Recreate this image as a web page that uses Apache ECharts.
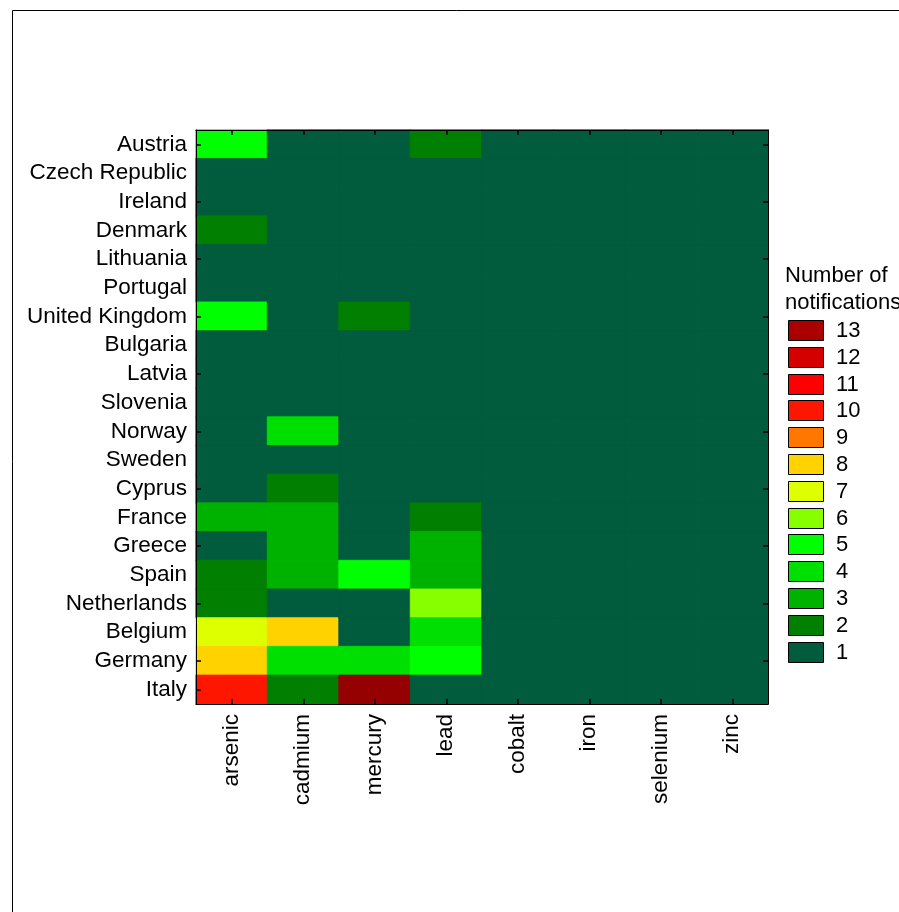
<!DOCTYPE html>
<html>
<head>
<meta charset="utf-8">
<script src="https://cdn.jsdelivr.net/npm/echarts@6/dist/echarts.min.js"></script>
<style>
html,body{margin:0;padding:0;background:#fff;}
#chart{width:899px;height:912px;}
</style>
</head>
<body>
<div id="chart"></div>
<script>
// ---- Data ----
var countries = ["Austria","Czech Republic","Ireland","Denmark","Lithuania","Portugal","United Kingdom","Bulgaria","Latvia","Slovenia","Norway","Sweden","Cyprus","France","Greece","Spain","Netherlands","Belgium","Germany","Italy"];
var metals = ["arsenic","cadmium","mercury","lead","cobalt","iron","selenium","zinc"];

var arsenic  = [5,1,1,2,1,1,5,1,1,1,1,1,1,3,1,2,2,7,8,10];
var cadmium  = [1,1,1,1,1,1,1,1,1,1,4,1,2,3,3,3,1,8,4,2];
var mercury  = [1,1,1,1,1,1,2,1,1,1,1,1,1,1,1,5,1,1,4,14];
var lead     = [2,1,1,1,1,1,1,1,1,1,1,1,1,2,3,3,6,4,5,1];
var cobalt   = [1,1,1,1,1,1,1,1,1,1,1,1,1,1,1,1,1,1,1,1];
var iron     = [1,1,1,1,1,1,1,1,1,1,1,1,1,1,1,1,1,1,1,1];
var selenium = [1,1,1,1,1,1,1,1,1,1,1,1,1,1,1,1,1,1,1,1];
var zinc     = [1,1,1,1,1,1,1,1,1,1,1,1,1,1,1,1,1,1,1,1];

var legendValues = [13,12,11,10,9,8,7,6,5,4,3,2,1];
var legendColors = ["#aa0000","#d40000","#ff0000","#ff1600","#ff7700","#ffd200","#ddff00","#88ff00","#00ff00","#00e000","#00b200","#007f00","#005c3c"];
var aboveColor = "#950000";

// ---- Build ----
function colorFor(v){
  var i = legendValues.indexOf(v);
  return i >= 0 ? legendColors[i] : aboveColor;
}
var columns = [arsenic, cadmium, mercury, lead, cobalt, iron, selenium, zinc];
var data = [];
columns.forEach(function(col, xi){
  col.forEach(function(v, yi){
    data.push({value:[xi, yi, v], itemStyle:{borderColor:colorFor(v), borderWidth:0.8}});
  });
});

var pieces = legendValues.map(function(v, i){ return {value: v, color: legendColors[i]}; });

var FONT = '"Liberation Sans", Arial, sans-serif';

// legend graphic
var legendEls = [];
legendEls.push({type:'text', left: 785, top: 265, style:{text:'Number of', font:'22px ' + FONT, fill:'#000'}});
legendEls.push({type:'text', left: 785, top: 292, style:{text:'notifications', font:'22px ' + FONT, fill:'#000'}});
legendValues.forEach(function(v, i){
  var cy = 330 + i * 26.8;
  legendEls.push({type:'rect', shape:{x:788.5, y:Math.round(cy-10)+0.5, width:35, height:20},
    style:{fill:legendColors[i], stroke:'#000', lineWidth:1}});
  legendEls.push({type:'text', x:836, y:cy + 1, style:{text:String(v), font:'22px ' + FONT, fill:'#000', verticalAlign:'middle', textVerticalAlign:'middle'}});
});

var chart = echarts.init(document.getElementById('chart'), null, {renderer:'canvas'});
var tickStyle = {show:true, inside:true, length:5, alignWithLabel:true, lineStyle:{color:'#000', width:1.5}};
var option = {
  backgroundColor:'#fff',
  animation:false,
  grid:{left:196, top:130, width:572, height:574, containLabel:false},
  xAxis:[{
    type:'category', data:metals, position:'bottom', z:10,
    axisLine:{show:true, lineStyle:{color:'#000', width:1}},
    axisTick:Object.assign({}, tickStyle, {interval:0}),
    axisLabel:{rotate:90, margin:10, interval:0, color:'#000', fontSize:22.5, fontFamily:FONT},
    splitLine:{show:false}
  },{
    type:'category', data:metals, position:'top', z:10,
    axisLine:{show:true, lineStyle:{color:'#000', width:1}},
    axisTick:Object.assign({}, tickStyle, {interval:0}),
    axisLabel:{show:false}, splitLine:{show:false}
  }],
  yAxis:[{
    type:'category', data:countries, inverse:true, position:'left', z:10,
    axisLine:{show:true, lineStyle:{color:'#000', width:1}},
    axisTick:Object.assign({}, tickStyle, {interval:1}),
    axisLabel:{interval:0, margin:9, color:'#000', fontSize:22.5, fontFamily:FONT, padding:[4,0,0,0]},
    splitLine:{show:false}
  },{
    type:'category', data:countries, inverse:true, position:'right', z:10,
    axisLine:{show:true, lineStyle:{color:'#000', width:1}},
    axisTick:Object.assign({}, tickStyle, {interval:1}),
    axisLabel:{show:false}, splitLine:{show:false}
  }],
  visualMap:{
    type:'piecewise', show:false, dimension:2, seriesIndex:0,
    pieces:pieces, outOfRange:{color:aboveColor}
  },
  graphic:[
    {type:'rect', shape:{x:12.5, y:10.5, width:1000, height:1000}, style:{fill:'none', stroke:'#000', lineWidth:1}, z:-1},
    {type:'group', children:legendEls}
  ],
  series:[{
    type:'heatmap', xAxisIndex:0, yAxisIndex:0, data:data,
    emphasis:{disabled:true}
  }]
};
chart.setOption(option);
</script>
</body>
</html>
